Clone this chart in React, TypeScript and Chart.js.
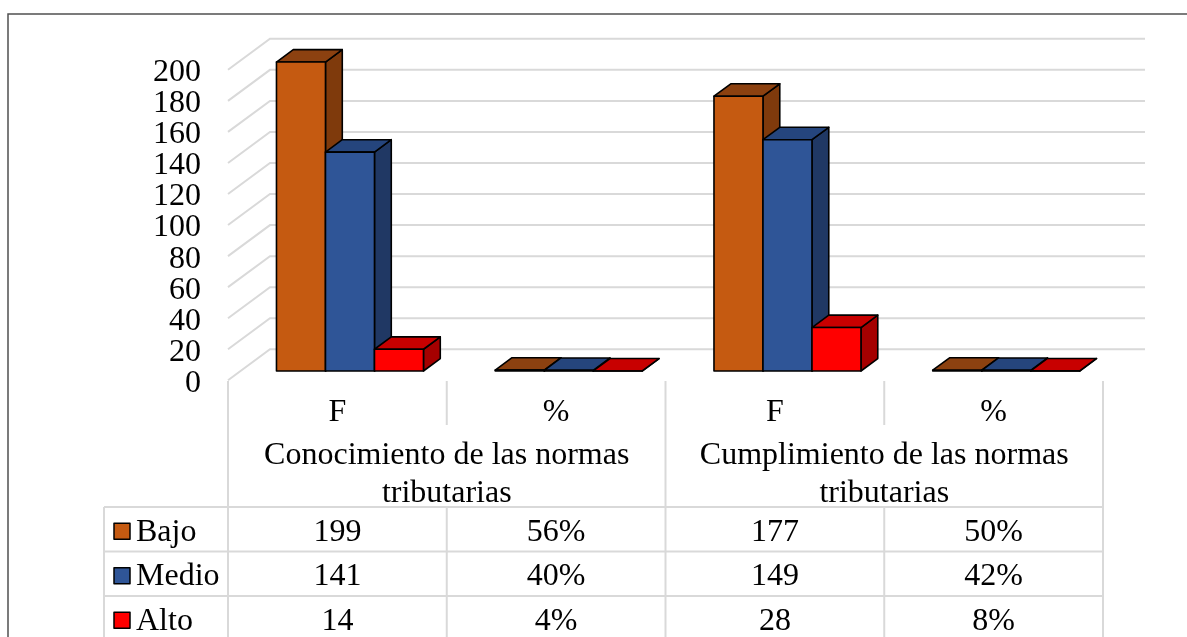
import React, { useEffect, useRef } from "react";
import { Chart, registerables } from "chart.js";

Chart.register(...registerables);

// ---- data ----
const categories = ["F", "%", "F", "%"];
const groupLabels = [
  ["Conocimiento de las normas", "tributarias"],
  ["Cumplimiento de las normas", "tributarias"],
];
const seriesNames = ["Bajo", "Medio", "Alto"];
const bajo = [199, 0.56, 177, 0.5];
const medio = [141, 0.4, 149, 0.42];
const alto = [14, 0.04, 28, 0.08];
const yTicks = [0, 20, 40, 60, 80, 100, 120, 140, 160, 180, 200];

// ---- styles ----
const FRONT = ["#C55A11", "#2F5597", "#FF0000"];
const TOP = ["#8C4110", "#25457D", "#C80000"];
const SIDE = ["#7F3A0C", "#203864", "#A50000"];
const FONT = '32px "Liberation Serif", "Times New Roman", serif';
const DX = 42;
const DY = -31;
const FRONT_F = 0.3;
const BAR_F = 0.4;
const GRID = "#D9D9D9";
const TY = 2; // text baseline nudge

function fmt(catIndex: number, v: number): string {
  return categories[catIndex] === "%" ? Math.round(v * 100) + "%" : String(v);
}

const excel3d = {
  id: "excel3d",
  beforeDatasetsDraw(chart: any) {
    const ctx: CanvasRenderingContext2D = chart.ctx;
    const { left, right } = chart.chartArea;
    const ys = chart.scales.y;
    ctx.save();
    // outer frame
    ctx.strokeStyle = "#505050";
    ctx.lineWidth = 1.5;
    ctx.strokeRect(8, 14, 1400, 800);
    // gridlines (front diagonal + back wall)
    ctx.strokeStyle = GRID;
    ctx.lineWidth = 2;
    const fdx = -FRONT_F * DX;
    const fdy = -FRONT_F * DY;
    const bdx = (1 - FRONT_F) * DX;
    const bdy = (1 - FRONT_F) * DY;
    for (const t of yTicks) {
      const yb = ys.getPixelForValue(t);
      ctx.beginPath();
      ctx.moveTo(left + fdx, yb + fdy);
      ctx.lineTo(left + bdx, yb + bdy);
      ctx.lineTo(right + bdx, yb + bdy);
      ctx.stroke();
    }
    // tick labels
    ctx.fillStyle = "#000";
    ctx.font = FONT;
    ctx.textAlign = "right";
    ctx.textBaseline = "middle";
    for (const t of yTicks) {
      const yb = ys.getPixelForValue(t);
      ctx.fillText(String(t), left + fdx - 27, yb + fdy + 1 + TY);
    }
    ctx.restore();
  },
  afterDatasetsDraw(chart: any) {
    const ctx: CanvasRenderingContext2D = chart.ctx;
    const xs = chart.scales.x;
    ctx.save();
    const bx = BAR_F * DX;
    const by = BAR_F * DY;
    ctx.lineJoin = "round";
    ctx.lineWidth = 1.6;
    ctx.strokeStyle = "#000";
    for (let j = 0; j < categories.length; j++) {
      for (let i = 0; i < chart.data.datasets.length; i++) {
        const el = chart.getDatasetMeta(i).data[j];
        const { x, y, base, width } = el.getProps(["x", "y", "base", "width"], true);
        const l = x - width / 2;
        const r = x + width / 2;
        // side
        ctx.fillStyle = SIDE[i];
        ctx.beginPath();
        ctx.moveTo(r, y);
        ctx.lineTo(r + bx, y + by);
        ctx.lineTo(r + bx, base + by);
        ctx.lineTo(r, base);
        ctx.closePath();
        ctx.fill();
        ctx.stroke();
        // top
        ctx.fillStyle = TOP[i];
        ctx.beginPath();
        ctx.moveTo(l, y);
        ctx.lineTo(l + bx, y + by);
        ctx.lineTo(r + bx, y + by);
        ctx.lineTo(r, y);
        ctx.closePath();
        ctx.fill();
        ctx.stroke();
        // front
        ctx.fillStyle = FRONT[i];
        ctx.beginPath();
        ctx.rect(l, y, width, base - y);
        ctx.fill();
        ctx.stroke();
      }
    }

    // ---- data table ----
    const fdx = -FRONT_F * DX;
    const half = (xs.getPixelForValue(1) - xs.getPixelForValue(0)) / 2;
    const centers = categories.map((_, j) => xs.getPixelForValue(j) + fdx);
    const xEnd = centers[categories.length - 1] + half;
    const tableLeft = 104;
    const yTop = 381;
    const ySep = 425;
    const rowTop = 507;
    const rowH = 44.5;
    const yBottom = 700;

    ctx.strokeStyle = GRID;
    ctx.lineWidth = 2;
    ctx.beginPath();
    for (let k = 0; k <= categories.length; k++) {
      const xv = k === categories.length ? xEnd : centers[k] - half;
      if (k % 2 === 0) {
        ctx.moveTo(xv, yTop);
        ctx.lineTo(xv, yBottom);
      } else {
        ctx.moveTo(xv, yTop);
        ctx.lineTo(xv, ySep);
        ctx.moveTo(xv, rowTop);
        ctx.lineTo(xv, yBottom);
      }
    }
    ctx.moveTo(tableLeft, rowTop);
    ctx.lineTo(tableLeft, yBottom);
    for (let r = 0; r <= seriesNames.length; r++) {
      const yh = rowTop + r * rowH;
      ctx.moveTo(tableLeft, yh);
      ctx.lineTo(xEnd, yh);
    }
    ctx.stroke();

    ctx.fillStyle = "#000";
    ctx.font = FONT;
    ctx.textBaseline = "middle";
    ctx.textAlign = "center";
    categories.forEach((c, j) => ctx.fillText(c, centers[j], 411 + TY));
    groupLabels.forEach((lines, g) => {
      const gx = (centers[g * 2] + centers[g * 2 + 1]) / 2;
      lines.forEach((ln, k) => ctx.fillText(ln, gx, 454 + TY + k * 38));
    });
    const series = [bajo, medio, alto];
    series.forEach((vals, i) => {
      const yc = rowTop + i * rowH + rowH / 2 + 1;
      vals.forEach((v, j) => {
        ctx.textAlign = "center";
        ctx.fillStyle = "#000";
        ctx.fillText(fmt(j, v), centers[j], yc + TY);
      });
      // legend key
      ctx.fillStyle = FRONT[i];
      ctx.fillRect(114, yc - 7, 16, 16);
      ctx.strokeStyle = "#000";
      ctx.lineWidth = 1.5;
      ctx.strokeRect(114, yc - 7, 16, 16);
      ctx.fillStyle = "#000";
      ctx.textAlign = "left";
      ctx.fillText(seriesNames[i], 136, yc + TY);
    });
    ctx.restore();
  },
};

export default function App() {
  const ref = useRef<HTMLCanvasElement | null>(null);
  useEffect(() => {
    if (!ref.current) return;
    const chart = new Chart(ref.current, {
      type: "bar",
      data: {
        labels: categories,
        datasets: [
          { label: seriesNames[0], data: bajo, backgroundColor: "rgba(0,0,0,0)", borderWidth: 0 },
          { label: seriesNames[1], data: medio, backgroundColor: "rgba(0,0,0,0)", borderWidth: 0 },
          { label: seriesNames[2], data: alto, backgroundColor: "rgba(0,0,0,0)", borderWidth: 0 },
        ],
      },
      options: {
        responsive: false,
        animation: false,
        devicePixelRatio: 1,
        layout: { padding: { left: 240.6, right: 71.4, top: 60.5, bottom: 266 } },
        datasets: { bar: { categoryPercentage: 0.672, barPercentage: 1 } },
        scales: {
          x: { display: false, offset: true },
          y: { display: false, min: 0, max: 200 },
        },
        plugins: { legend: { display: false }, tooltip: { enabled: false } },
      },
      plugins: [excel3d],
    });
    return () => chart.destroy();
  }, []);
  return (
    <div style={{ position: "fixed", left: 0, top: 0, width: 1187, height: 637, background: "#fff" }}>
      <canvas ref={ref} width={1187} height={637} style={{ display: "block" }} />
    </div>
  );
}
